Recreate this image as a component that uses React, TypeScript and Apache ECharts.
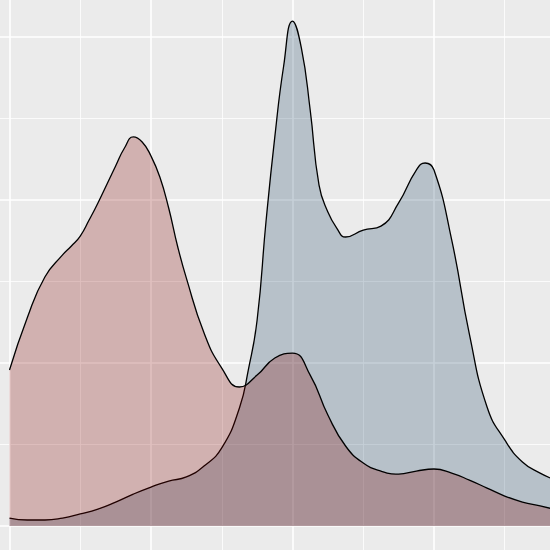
import React, { useEffect, useRef } from "react";
import * as echarts from "echarts";

// Density curves
const redX = [0, 0.25, 0.5, 0.75, 0.875, 1, 1.125, 1.25, 1.5, 1.625, 1.75, 1.875, 2, 2.125, 2.25, 2.375, 2.5, 2.75, 3, 3.25, 3.5, 3.75, 4, 4.25, 4.5, 4.75, 5, 5.25, 5.5, 5.75, 6, 6.25, 6.5, 6.75, 7, 7.25, 7.5, 7.75];
const redY = [0.0957, 0.1276, 0.1528, 0.1663, 0.1718, 0.1779, 0.1877, 0.1982, 0.2209, 0.2319, 0.2387, 0.2356, 0.227, 0.2141, 0.1951, 0.1718, 0.1521, 0.1184, 0.0969, 0.0853, 0.0926, 0.1031, 0.1061, 0.0926, 0.0681, 0.0491, 0.0387, 0.0337, 0.0319, 0.0337, 0.035, 0.0325, 0.0282, 0.0233, 0.0184, 0.0147, 0.0123, 0.0098];

const blueX = [0, 0.25, 0.5, 0.75, 1, 1.25, 1.5, 1.75, 2, 2.25, 2.5, 2.75, 3, 3.25, 3.375, 3.5, 3.625, 3.75, 3.875, 4, 4.125, 4.25, 4.375, 4.5, 4.625, 4.75, 5, 5.25, 5.5, 5.75, 5.875, 6, 6.25, 6.5, 6.75, 7, 7.25, 7.5, 7.75];
const blueY = [0.0049, 0.0037, 0.0037, 0.0049, 0.0074, 0.0104, 0.0147, 0.0196, 0.0239, 0.0276, 0.0301, 0.0368, 0.0479, 0.0724, 0.0957, 0.1264, 0.1865, 0.2387, 0.2822, 0.3098, 0.2933, 0.2552, 0.2092, 0.1926, 0.1828, 0.1773, 0.1816, 0.184, 0.1982, 0.2184, 0.2227, 0.2184, 0.1755, 0.1178, 0.073, 0.0528, 0.0393, 0.0325, 0.0276];

// Grid line positions (axis values)
const majorX = [0, 2, 4, 6];
const minorX = [1, 3, 5, 7];
const majorY = [0, 0.1, 0.2, 0.3];
const minorY = [0.05, 0.15, 0.25];

const X_MIN = -0.1343;
const X_MAX = 7.6396;
const Y_MIN = -0.0147;
const Y_MAX = 0.3227;

export default function App() {
  const ref = useRef<HTMLDivElement>(null);
  useEffect(() => {
    const chart = echarts.init(ref.current!, null, { renderer: "svg" });
    const majorStyle = { color: "#ffffff", width: 1.6, type: "solid" as const };
    const minorStyle = { color: "#ffffff", width: 0.8, type: "solid" as const };
    chart.setOption({
      animation: false,
      backgroundColor: "#EBEBEB",
      grid: { left: 0, right: 0, top: 0, bottom: 0, containLabel: false },
      xAxis: { type: "value", min: X_MIN, max: X_MAX, show: false },
      yAxis: { type: "value", min: Y_MIN, max: Y_MAX, show: false },
      series: [
        {
          type: "line",
          data: [],
          z: 1,
          silent: true,
          markLine: {
            z: 1,
            silent: true,
            symbol: "none",
            label: { show: false },
            emphasis: { disabled: true },
            data: [
              ...minorX.map((v) => ({ xAxis: v, lineStyle: minorStyle })),
              ...minorY.map((v) => ({ yAxis: v, lineStyle: minorStyle })),
              ...majorX.map((v) => ({ xAxis: v, lineStyle: majorStyle })),
              ...majorY.map((v) => ({ yAxis: v, lineStyle: majorStyle })),
            ],
          },
        },
        {
          type: "line",
          z: 2,
          smooth: 0.5,
          symbol: "none",
          silent: true,
          data: blueX.map((x, i) => [x, blueY[i]]),
          lineStyle: { color: "#000000", width: 1.3 },
          areaStyle: { color: "rgb(27,67,99)", opacity: 0.25 },
        },
        {
          type: "line",
          z: 3,
          smooth: 0.5,
          symbol: "none",
          silent: true,
          data: redX.map((x, i) => [x, redY[i]]),
          lineStyle: { color: "#000000", width: 1.3 },
          areaStyle: { color: "rgb(131,3,0)", opacity: 0.25 },
        },
      ],
    });
    return () => chart.dispose();
  }, []);
  return (
    <div
      ref={ref}
      style={{ position: "fixed", left: 0, top: 0, width: 550, height: 550 }}
    />
  );
}
